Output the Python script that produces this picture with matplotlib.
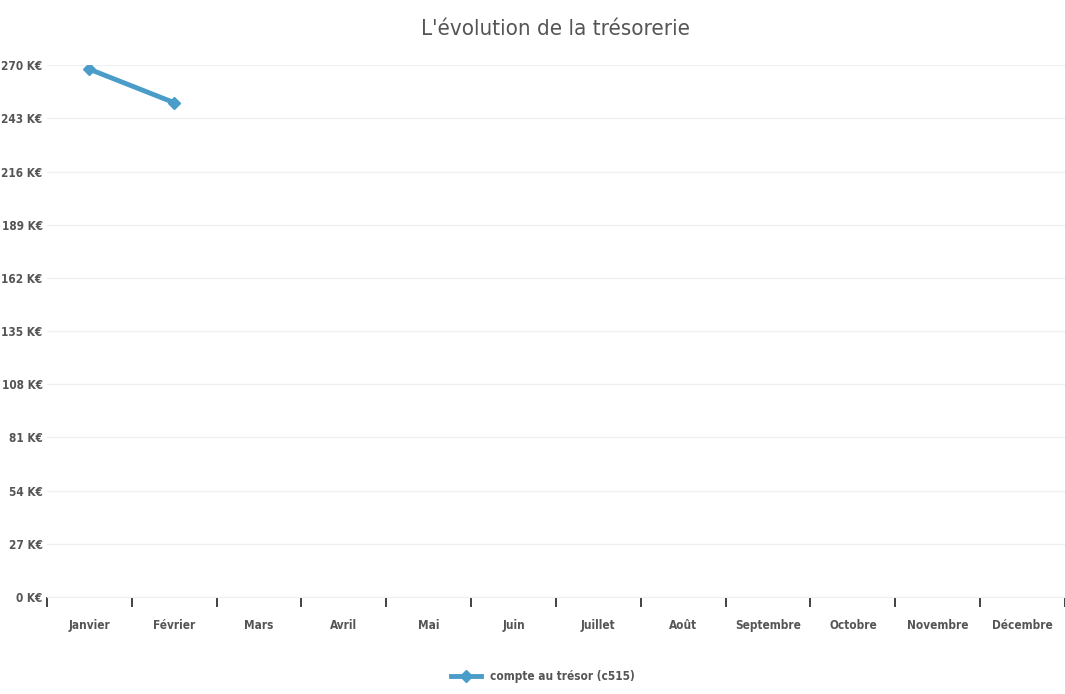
import matplotlib.pyplot as plt
import numpy as np

# donnees
mois = ['Janvier', 'Février', 'Mars', 'Avril', 'Mai', 'Juin', 'Juillet', 'Août',
        'Septembre', 'Octobre', 'Novembre', 'Décembre']
tresor = [268, 251]
yticks = [0, 27, 54, 81, 108, 135, 162, 189, 216, 243, 270]

plt.rcParams['font.family'] = ['DejaVu Sans']
plt.rcParams['font.stretch'] = 'condensed'

fig = plt.figure(figsize=(10.65, 6.94), dpi=100)
ax = fig.add_axes([0.044, 0.140, 0.956, 0.766])

x = np.arange(len(mois))
ax.plot(x[:len(tresor)], tresor, '-D', color='#4A9CC9', lw=3.5, ms=6,
        label='compte au trésor (c515)')

ax.set_xlim(-0.5, len(mois) - 0.5)
ax.set_ylim(0, 270)
ax.set_yticks(yticks)
ax.set_yticklabels([f'{v} K€' for v in yticks], fontsize=8.5, fontweight='bold', color='#555555')
ax.set_xticks(x)
ax.set_xticklabels(mois, fontsize=8.5, fontweight='bold', color='#555555')
ax.set_xticks(np.arange(len(mois) + 1) - 0.5, minor=True)
ax.tick_params(axis='x', which='major', length=0, pad=16)
ax.tick_params(axis='x', which='minor', length=7, width=1.3, color='#333333', direction='out')
ax.tick_params(axis='y', length=0, pad=3)

ax.grid(axis='y', color='#F0F0F0', lw=1)
for s in ['top', 'right', 'left']:
    ax.spines[s].set_visible(False)
ax.spines['bottom'].set_color('#F0F0F0')

ax.set_title("L'évolution de la trésorerie", fontsize=16, color='#555555', pad=22)
fig.legend(loc='lower center', bbox_to_anchor=(0.51, 0.0), frameon=False,
           prop={'size': 8.5, 'weight': 'bold'}, labelcolor='#555555', handlelength=2.5)

fig.savefig('out.png', dpi=100)
